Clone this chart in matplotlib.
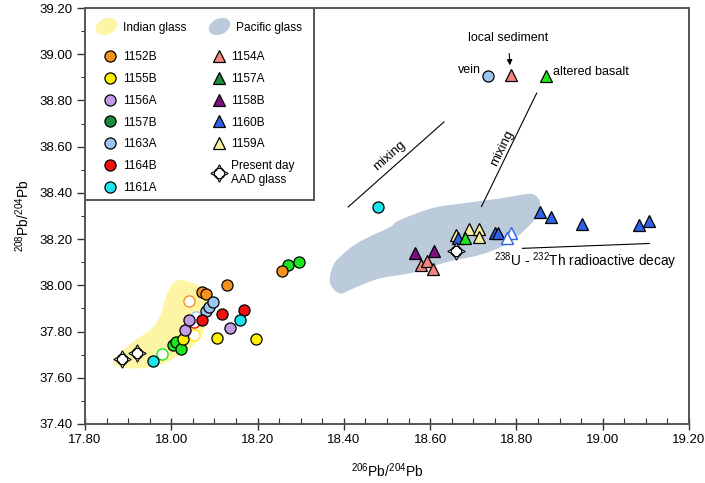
import numpy as np
import matplotlib.pyplot as plt
from matplotlib.path import Path
from matplotlib.patches import PathPatch, Rectangle
from matplotlib.lines import Line2D
from matplotlib.transforms import Affine2D
from matplotlib.ticker import MultipleLocator, FormatStrFormatter

plt.rcParams['font.family'] = ['Liberation Sans', 'DejaVu Sans']
plt.rcParams['mathtext.fontset'] = 'custom'
plt.rcParams['mathtext.rm'] = 'Liberation Sans'
plt.rcParams['mathtext.it'] = 'Liberation Sans:italic'

# ---- data: (206Pb/204Pb, 208Pb/204Pb) ----
# Indian-type sites (circles)
s1152B = ([18.070, 18.080, 18.130, 18.257], [37.970, 37.962, 38.000, 38.064])
s1155B = ([18.026, 18.107, 18.196], [37.767, 37.771, 37.767])
s1156A = ([18.032, 18.040, 18.136], [37.806, 37.850, 37.814])
s1157B = ([18.003, 18.010, 18.023, 18.271, 18.295], [37.742, 37.756, 37.726, 38.090, 38.100])
s1163A = ([18.080, 18.088, 18.096], [37.889, 37.908, 37.928])
s1164B = ([18.070, 18.118, 18.168], [37.850, 37.876, 37.892])
s1161A = ([17.958, 18.159, 18.478], [37.674, 37.850, 38.341])
# open symbols (same sites, unfilled)
open_circles = {
    '1152B': ([18.041], [37.932]),
    '1155B': ([18.052], [37.784]),
    '1157B': ([17.979], [37.702]),
    '1164B': ([18.053], [37.843]),
    '1163A': ([18.057], [37.865]),
}
# Pacific-type sites (triangles)
s1154A = ([18.578, 18.592, 18.606], [38.088, 38.106, 38.070])
s1157A = ([18.681], [38.204])
s1158B = ([18.565, 18.609], [38.139, 38.150])
s1160B = ([18.665, 18.750, 18.758, 18.855, 18.880, 18.951, 19.083, 19.108],
          [38.204, 38.228, 38.228, 38.319, 38.295, 38.266, 38.262, 38.280])
s1160B_open = ([18.787, 18.779], [38.225, 38.204])
s1159A = ([18.661, 18.689, 18.714, 18.714], [38.218, 38.243, 38.243, 38.211])
aad = ([17.885, 17.921, 18.661], [37.680, 37.706, 38.149])
# end members
vein = (18.734, 38.904)
sediment = (18.787, 38.911)
basalt = (18.869, 38.904)

# field outlines
indian_x = [18.020, 18.059, 18.078, 18.086, 18.082, 18.067, 18.043, 18.013, 17.974,
            17.927, 17.881, 17.866, 17.881, 17.911, 17.951, 17.974, 17.985, 18.001]
indian_y = [38.023, 38.002, 37.973, 37.908, 37.836, 37.778, 37.728, 37.691, 37.655,
            37.641, 37.645, 37.668, 37.706, 37.756, 37.807, 37.865, 37.937, 38.002]
pacific_x = [18.368, 18.375, 18.396, 18.426, 18.461, 18.507, 18.530, 18.607, 18.685,
             18.762, 18.824, 18.843, 18.855, 18.847, 18.815, 18.778, 18.716, 18.638,
             18.560, 18.484, 18.426, 18.391]
pacific_y = [38.010, 38.085, 38.132, 38.177, 38.212, 38.252, 38.283, 38.335, 38.357,
             38.376, 38.395, 38.390, 38.357, 38.297, 38.232, 38.178, 38.132, 38.100,
             38.055, 38.030, 37.990, 37.965]

# reference lines
mix1 = ([18.410, 18.632], [38.339, 38.707])
mix2 = ([18.719, 18.847], [38.341, 38.832])
decay = ([18.814, 19.108], [38.160, 38.181])

c = {
    '1152B': '#f5921e', '1155B': '#ffef00', '1156A': '#c49be6', '1157B': '#1ee61e',
    '1163A': '#9cc6f2', '1164B': '#ee1111', '1161A': '#1ee4ee',
    '1154A': '#f28580', '1157A': '#1ee61e', '1158B': '#7d0f80', '1160B': '#2f62ea',
    '1159A': '#f7f0a0',
}
dark_green = '#1b8a3a'
indian_col = '#fdf5a3'
pacific_col = '#bccbdb'


def smooth_closed(xs, ys):
    # closed Catmull-Rom curve through the outline points
    p = np.column_stack([xs, ys])
    n = len(p)
    verts = [p[0]]
    codes = [Path.MOVETO]
    for i in range(n):
        p0, p1, p2, p3 = p[i - 1], p[i], p[(i + 1) % n], p[(i + 2) % n]
        verts += [p1 + (p2 - p0) / 6, p2 - (p3 - p1) / 6, p2]
        codes += [Path.CURVE4] * 3
    return Path(verts, codes)


fig = plt.figure(figsize=(7.05, 4.83), dpi=100)
ax = fig.add_axes([0.1206, 0.1222, 0.8567, 0.8612])

ax.add_patch(PathPatch(smooth_closed(indian_x, indian_y), fc=indian_col, ec='none', zorder=1))
ax.add_patch(PathPatch(smooth_closed(pacific_x, pacific_y), fc=pacific_col, ec='none', zorder=1))

for line in (mix1, mix2, decay):
    ax.plot(line[0], line[1], color='black', lw=0.8, zorder=2)

mk = dict(linestyle='none', markeredgecolor='black', markeredgewidth=0.9, zorder=3)
circ = dict(marker='o', markersize=8, **mk)
tri = dict(marker='^', markersize=8.5, **mk)

for key, pts in open_circles.items():
    ax.plot(pts[0], pts[1], marker='o', markersize=8, linestyle='none',
            markerfacecolor='white', markeredgecolor=c[key], markeredgewidth=1.0, zorder=3)

for key, pts in [('1157B', s1157B), ('1155B', s1155B), ('1156A', s1156A),
                 ('1152B', s1152B), ('1163A', s1163A), ('1164B', s1164B),
                 ('1161A', s1161A)]:
    ax.plot(pts[0], pts[1], markerfacecolor=c[key], **circ)

for key, pts in [('1154A', s1154A), ('1158B', s1158B), ('1159A', s1159A),
                 ('1160B', s1160B), ('1157A', s1157A)]:
    ax.plot(pts[0], pts[1], markerfacecolor=c[key], **tri)
ax.plot(s1160B_open[0], s1160B_open[1], marker='^', markersize=8.5, linestyle='none',
        markerfacecolor='white', markeredgecolor=c['1160B'], markeredgewidth=1.0, zorder=3)

# present day AAD glass: 4-point star inside a ring
star_kw = dict(linestyle='none', marker=(4, 1, 0), markersize=12.5, markerfacecolor='white',
               markeredgecolor='black', markeredgewidth=0.8)
ring_kw = dict(linestyle='none', marker='o', markersize=7.5, markerfacecolor='none',
               markeredgecolor='black', markeredgewidth=0.9)
ax.plot(aad[0], aad[1], zorder=4, **star_kw)
ax.plot(aad[0], aad[1], zorder=4, **ring_kw)

# end members
ax.plot(*vein, markerfacecolor=c['1163A'], **circ)
ax.plot(*sediment, markerfacecolor=c['1154A'], **tri)
ax.plot(*basalt, markerfacecolor=c['1157A'], **tri)

fs = 9
ax.text(18.717, 38.932, 'vein', ha='right', va='center', fontsize=fs)
ax.text(18.884, 38.925, 'altered basalt', ha='left', va='center', fontsize=fs)
ax.annotate('local sediment', xy=(18.785, 38.952), xytext=(18.781, 39.071),
            ha='center', va='center', fontsize=fs,
            arrowprops=dict(arrowstyle='-|>', color='black', lw=0.8,
                            mutation_scale=8, shrinkA=5, shrinkB=0))
ax.text(18.505, 38.560, 'mixing', ha='center', va='center', rotation=41.5, fontsize=9.5)
ax.text(18.766, 38.593, 'mixing', ha='center', va='center', rotation=64, fontsize=9.5)
ax.text(18.959, 38.103, r'$^{238}$U - $^{232}$Th radioactive decay',
        ha='center', va='center', fontsize=9.8)

# axes
ax.set_xlim(17.80, 19.20)
ax.set_ylim(37.40, 39.20)
ax.xaxis.set_major_locator(MultipleLocator(0.2))
ax.xaxis.set_minor_locator(MultipleLocator(0.05))
ax.yaxis.set_major_locator(MultipleLocator(0.2))
ax.yaxis.set_minor_locator(MultipleLocator(0.1))
ax.xaxis.set_major_formatter(FormatStrFormatter('%.2f'))
ax.yaxis.set_major_formatter(FormatStrFormatter('%.2f'))
ax.tick_params(axis='x', which='major', direction='inout', length=8, width=1,
               labelsize=9.5, colors='#333333', labelcolor='black', pad=3)
ax.tick_params(axis='x', which='minor', direction='in', length=4, width=0.8, colors='#333333')
ax.tick_params(axis='y', which='major', direction='out', length=6, width=1,
               labelsize=9.5, colors='#333333', labelcolor='black', pad=3)
ax.tick_params(axis='y', which='minor', direction='out', length=3, width=0.8, colors='#333333')
for sp in ax.spines.values():
    sp.set_linewidth(1.4)
    sp.set_color('#555555')

ax.set_xlabel(r'$^{206}$Pb/$^{204}$Pb', fontsize=10, labelpad=11)
ax.set_ylabel(r'$^{208}$Pb/$^{204}$Pb', fontsize=10, labelpad=5)

# legend: frame, header row (fields) and site symbols
ax.add_patch(Rectangle((0, 0.538), 0.379, 0.462, transform=ax.transAxes, fc='white',
                       ec='#555555', lw=1.4, zorder=4))

blob = Path.unit_circle().transformed(Affine2D().scale(1.0, 0.7).rotate_deg(25))


def lh(color, m):
    return Line2D([], [], linestyle='none', marker=m, markersize=8 if m == 'o' else 8.5,
                  markerfacecolor=color, markeredgecolor='black', markeredgewidth=0.9)


lfs = 8.6
head = ax.legend(
    [Line2D([], [], linestyle='none', marker=blob, markersize=16, markerfacecolor=indian_col,
            markeredgecolor='none'),
     Line2D([], [], linestyle='none', marker=blob, markersize=16, markerfacecolor=pacific_col,
            markeredgecolor='none')],
    ['Indian glass', 'Pacific glass'], ncol=2, loc='upper left',
    bbox_to_anchor=(0.019, 0.9675), borderaxespad=0, borderpad=0, frameon=False,
    fontsize=lfs, handlelength=1.6, handletextpad=0.6, columnspacing=1.95)
head.set_zorder(5)
ax.add_artist(head)

handles = [
    lh(c['1152B'], 'o'), lh(c['1155B'], 'o'), lh(c['1156A'], 'o'), lh(dark_green, 'o'),
    lh(c['1163A'], 'o'), lh(c['1164B'], 'o'), lh(c['1161A'], 'o'),
    lh(c['1154A'], '^'), lh(dark_green, '^'), lh(c['1158B'], '^'), lh(c['1160B'], '^'),
    lh(c['1159A'], '^'),
    (Line2D([], [], **star_kw), Line2D([], [], **ring_kw)),
]
labels = ['1152B', '1155B', '1156A', '1157B', '1163A', '1164B', '1161A',
          '1154A', '1157A', '1158B', '1160B', '1159A', 'Present day\nAAD glass']
leg = ax.legend(handles, labels, ncol=2, loc='upper left', bbox_to_anchor=(0.0315, 0.896),
                borderaxespad=0, borderpad=0, frameon=False, fontsize=lfs,
                handlelength=1.0, handletextpad=0.57, labelspacing=0.82, columnspacing=4.7)
leg.set_zorder(5)

fig.savefig('out.png', dpi=100)
